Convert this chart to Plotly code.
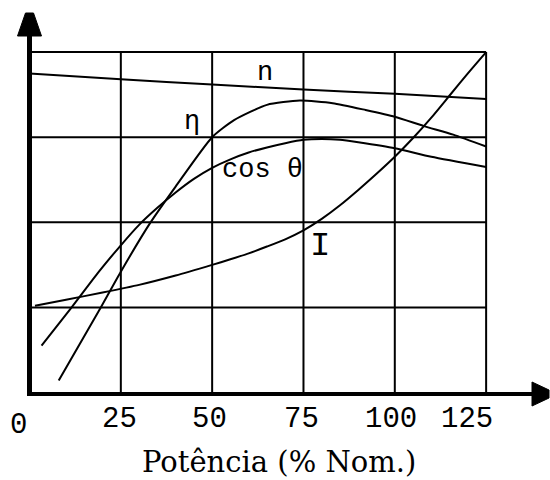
import plotly.graph_objects as go

# Characteristic curves of an induction motor versus load (% of nominal)
n_x = [0, 25, 50, 75, 100, 125]
n_y = [3.75, 3.68, 3.62, 3.56, 3.51, 3.45]

eta_x = [8, 19, 25, 33, 40, 50, 56, 65, 74, 83, 92, 100, 108, 116, 125]
eta_y = [0.14, 0.96, 1.42, 1.99, 2.42, 3.0, 3.2, 3.38, 3.43, 3.40, 3.32, 3.24, 3.13, 3.03, 2.89]

cos_x = [3.3, 11, 19, 25, 30, 35, 40, 45, 50, 55, 60, 65, 70, 75, 80, 85, 90, 100, 110, 125]
cos_y = [0.55, 0.97, 1.42, 1.73, 1.97, 2.17, 2.35, 2.51, 2.64, 2.74, 2.82, 2.88, 2.93, 2.97, 2.98,
         2.97, 2.94, 2.87, 2.77, 2.65]

i_x = [1.5, 10, 20, 30, 40, 50, 55, 60, 65, 70, 75, 80, 85, 90, 95, 100, 105, 110, 115, 120, 125]
i_y = [1.02, 1.09, 1.175, 1.265, 1.375, 1.50, 1.565, 1.635, 1.715, 1.80, 1.905, 2.04, 2.20, 2.38,
       2.57, 2.77, 2.99, 3.23, 3.49, 3.75, 4.0]

x_ticks = [0, 25, 50, 75, 100, 125]
x_tick_labels = ["0", "25", "50", "75", "100", "125"]
y_grid = [1, 2, 3, 4]

W, H = 550, 480
X0, XS = 29.5, 3.653   # pixel of x=0, pixels per unit
Y0, YS = 392.5, 85.1   # pixel of y=0, pixels per unit


def px(p):
    return (p - X0) / XS


def py(p):
    return (Y0 - p) / YS


INK = "#000000"
fig = go.Figure()

for xs, ys in [(n_x, n_y), (eta_x, eta_y), (cos_x, cos_y), (i_x, i_y)]:
    fig.add_trace(go.Scatter(x=xs, y=ys, mode="lines",
                             line=dict(color=INK, width=2, shape="spline", smoothing=0.6),
                             hoverinfo="skip", showlegend=False))

shapes = []
xmax = x_ticks[-1]
ymax = y_grid[-1]
for xv in x_ticks[1:]:
    shapes.append(dict(type="line", x0=xv, x1=xv, y0=0, y1=ymax,
                       line=dict(color=INK, width=2)))
for yv in y_grid:
    shapes.append(dict(type="line", x0=0, x1=xmax, y0=yv, y1=yv,
                       line=dict(color=INK, width=2)))

# axes with arrowheads
shapes.append(dict(type="line", x0=0, x1=0, y0=py(396), y1=py(30),
                   line=dict(color=INK, width=5)))
shapes.append(dict(type="line", x0=px(27), x1=px(534), y0=py(394), y1=py(394),
                   line=dict(color=INK, width=4)))
shapes.append(dict(type="path",
                   path=f"M {px(25.5)},{py(13)} L {px(33.5)},{py(13)} L {px(41.5)},{py(36)} L {px(17.5)},{py(36)} Z",
                   fillcolor=INK, line=dict(color=INK, width=1)))
shapes.append(dict(type="path",
                   path=f"M {px(532)},{py(382)} L {px(549)},{py(390)} L {px(549)},{py(398)} L {px(532)},{py(406)} Z",
                   fillcolor=INK, line=dict(color=INK, width=1)))

annotations = []
tick_font = dict(family="Liberation Mono", size=29, color=INK)
x_shift = [-11.5, -1, -3, -1.5, -4, -19]
y_shift = [-6, 0, 0, 0, 0, 0]
for xv, lab, dx, dy in zip(x_ticks, x_tick_labels, x_shift, y_shift):
    annotations.append(dict(x=xv, y=py(419), text=lab, showarrow=False,
                            xanchor="center", yanchor="middle",
                            xshift=dx, yshift=dy, font=tick_font))

annotations.append(dict(x=px(278.5), y=py(462), text="Potência (% Nom.)", showarrow=False,
                        xanchor="center", yanchor="middle",
                        font=dict(family="DejaVu Serif", size=29, color=INK)))

label_font = dict(family="Liberation Mono", size=27, color=INK)
annotations.append(dict(x=px(265), y=py(73), text="n", showarrow=False,
                        xanchor="center", yanchor="middle", font=label_font))
annotations.append(dict(x=px(192), y=py(122), text="η", showarrow=False,
                        xanchor="center", yanchor="middle", font=label_font))
annotations.append(dict(x=px(262), y=py(170), text="cos θ", showarrow=False,
                        xanchor="center", yanchor="middle", font=label_font))
annotations.append(dict(x=px(320), y=py(246), text="I", showarrow=False,
                        xanchor="center", yanchor="middle",
                        font=dict(family="Liberation Mono", size=34, color=INK)))

fig.update_layout(
    width=W, height=H,
    margin=dict(l=0, r=0, t=0, b=0),
    paper_bgcolor="white", plot_bgcolor="white",
    xaxis=dict(visible=False, range=[px(0), px(W)], fixedrange=True),
    yaxis=dict(visible=False, range=[py(H), py(0)], fixedrange=True),
    shapes=shapes, annotations=annotations,
    showlegend=False,
)

fig.write_html("out.html")
